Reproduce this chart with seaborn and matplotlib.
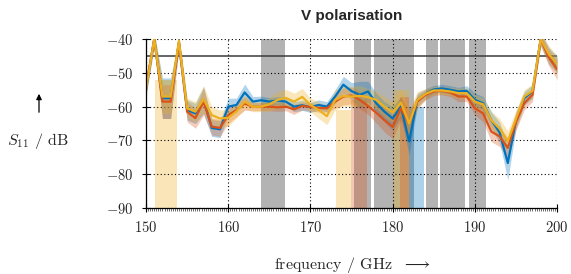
import numpy as np
import pandas as pd
import matplotlib
matplotlib.use("Agg")
import matplotlib.pyplot as plt
import seaborn as sns

# frequency points (GHz)
freq = np.arange(150, 201)

s11_blue = [-55, -40, -57.5, -57.5, -41, -61, -62, -58, -66.3, -66.7,
            -60, -59.5, -55.8, -58.5, -58.1, -58.5, -58.2, -58.5, -60, -59.6,
            -60.2, -59.5, -60, -57, -53.5, -55.4, -56.5, -55.5, -59, -61.5,
            -63.5, -60, -70.3, -58, -56.2, -54.9, -54.6, -55, -55.5, -55.3,
            -58, -59, -64, -67.6, -76.7, -64, -57.5, -55.5, -40, -45, -47.5]
s11_red = [-54, -40, -58.5, -58.5, -41, -61.5, -63.4, -58.5, -65.9, -66.3,
           -62.5, -61, -59.1, -60, -60, -60, -60.2, -60, -60.8, -59.8,
           -60.1, -60.4, -60.5, -58.5, -57, -56.7, -58, -59.8, -61.8, -64,
           -66, -60.5, -65, -58.5, -56.5, -55.5, -55.3, -55.8, -57, -57,
           -60.5, -62, -67.4, -68.8, -72.2, -64.5, -59, -56.5, -40, -45.5, -49]
s11_yellow = [-55, -40, -57, -57, -40.5, -60.5, -61.5, -57.8, -62.5, -63.5,
              -63.3, -61.4, -58.5, -60, -60, -59.3, -58, -57.4, -58.5, -57.1,
              -59.5, -61, -62.8, -58, -56.8, -57, -56.8, -57.2, -58, -60,
              -61.7, -58.8, -65, -58, -56.2, -55.2, -55.2, -55.5, -56, -56,
              -58.5, -59.3, -64, -66.5, -70.2, -63.5, -57, -55.3, -40, -44.5, -47.5]

# spread (half width of shaded band, dB)
sd_blue = [2, 2, 6, 6, 2, 3, 3, 4, 2.5, 2.5,
           2.5, 2, 2.5, 1.5, 1.2, 1.2, 1.2, 1.2, 1.5, 1.5,
           1.5, 1.5, 1.5, 2, 2.5, 2.5, 4, 3, 3, 3,
           3.5, 3, 4, 2, 1.5, 1.2, 1.2, 1.2, 1.2, 1.5,
           2, 2, 2.5, 3, 5, 2.5, 2, 2, 2, 2.5, 2.5]
sd_red = [2, 2, 5, 5, 2, 3, 3, 4, 2.5, 2.5,
          2.5, 2, 2, 1.2, 1.2, 1.2, 1.2, 1.2, 1.5, 1.2,
          1.2, 1.2, 1.2, 2, 2.5, 2.5, 2.5, 2.5, 3, 3.5,
          3.5, 3.5, 4, 2, 1.5, 1.2, 1.2, 1.2, 1.5, 1.5,
          2, 2.5, 3, 3, 3, 2.5, 2, 2, 2, 2.5, 3]
sd_yellow = [2, 2, 5, 5, 2, 3, 3, 4, 2.5, 2.5,
             2.5, 2, 2, 1.5, 1.5, 2, 2.5, 2.5, 2.5, 2.5,
             2, 2.5, 2.5, 3, 3, 3, 3, 2.5, 2.5, 3,
             3, 4, 4, 2.5, 1.5, 1.2, 1.2, 1.2, 1.5, 1.5,
             2, 2, 2.5, 3, 3, 2.5, 2, 2, 2, 2.5, 2.5]

# grey blocked bands (GHz)
grey_start = [164.0, 175.3, 177.7, 180.95, 184.05, 185.75, 189.25]
grey_end = [166.9, 177.4, 180.85, 182.6, 185.5, 188.8, 191.35]

# coloured flagged ranges: start, end, top level, series
flag_start = [151.1, 173.1, 174.9, 180.0, 180.9, 181.95]
flag_end = [153.8, 174.9, 176.9, 181.95, 181.95, 183.8]
flag_top = [-52, -61, -58, -55, -57, -60]
flag_series = ["yellow", "yellow", "red", "yellow", "red", "blue"]

colours = {"blue": "#0072BD", "red": "#D95319", "yellow": "#EDB120"}

sns.set_style("ticks")
plt.rcParams["font.family"] = "serif"
plt.rcParams["font.serif"] = ["cmr10"]
plt.rcParams["mathtext.fontset"] = "cm"
plt.rcParams["axes.formatter.use_mathtext"] = True
plt.rcParams["font.size"] = 10

fig = plt.figure(figsize=(5.71, 2.74), dpi=100)
ax = fig.add_axes([0.2557, 0.2409, 0.72, 0.6164])

for s, e in zip(grey_start, grey_end):
    ax.axvspan(s, e, color="#b3b3b3", lw=0, zorder=0.8)

for s, e, t, k in zip(flag_start, flag_end, flag_top, flag_series):
    ax.bar(s, t + 90, width=e - s, bottom=-90, align="edge",
           color=colours[k], alpha=0.32, lw=0, zorder=0.9)

df = pd.DataFrame({
    "freq": np.tile(freq, 3),
    "s11": s11_blue + s11_red + s11_yellow,
    "series": ["blue"] * len(freq) + ["red"] * len(freq) + ["yellow"] * len(freq),
})

for name, vals, sd in [("blue", s11_blue, sd_blue), ("red", s11_red, sd_red),
                       ("yellow", s11_yellow, sd_yellow)]:
    v = np.array(vals)
    d = np.array(sd)
    ax.fill_between(freq, v - d, v + d, color=colours[name], alpha=0.3,
                    lw=0, zorder=1.8)

sns.lineplot(data=df, x="freq", y="s11", hue="series", palette=colours,
             hue_order=["blue", "red", "yellow"], lw=1.6, legend=False,
             ax=ax, zorder=2)

ax.axhline(-45, color="#3a3a3a", lw=1.1, zorder=1.7)

ax.set_xlim(150, 200)
ax.set_ylim(-90, -40)
ax.set_xticks([150, 160, 170, 180, 190, 200])
ax.set_yticks([-90, -80, -70, -60, -50, -40])
ax.set_xticks(np.arange(150, 200.01, 0.25), minor=True)
ax.set_axisbelow("line")
ax.grid(True, which="major", color="black", ls=(0, (1, 2.2)), lw=0.8)
ax.tick_params(axis="both", which="major", direction="inout", length=6,
               width=0.8, color="black", labelsize=10.5, pad=6)
ax.tick_params(axis="x", which="minor", direction="out", length=2,
               width=0.6, color="#555555")
for side in ["top", "right"]:
    ax.spines[side].set_visible(False)
for side in ["left", "bottom"]:
    ax.spines[side].set_color("black")
    ax.spines[side].set_linewidth(0.9)

ax.set_xlabel("")
ax.set_ylabel("")
ax.set_title("V polarisation", fontsize=11, fontweight="bold",
             family="Liberation Sans", pad=14)

fig.text(352 / 571, 1 - 265 / 274, r"frequency / GHz  $\longrightarrow$",
         ha="center", va="center", fontsize=11.5)
fig.text(38 / 571, 1 - 141 / 274, r"$S_{11}$ / dB", ha="center",
         va="center", fontsize=11.5)
fig.add_artist(matplotlib.patches.FancyArrowPatch(
    (39 / 571, 1 - 115 / 274), (39 / 571, 1 - 91 / 274),
    transform=fig.transFigure, arrowstyle="-|>", mutation_scale=8,
    color="black", lw=0.9))

fig.savefig("out.png", dpi=100)
